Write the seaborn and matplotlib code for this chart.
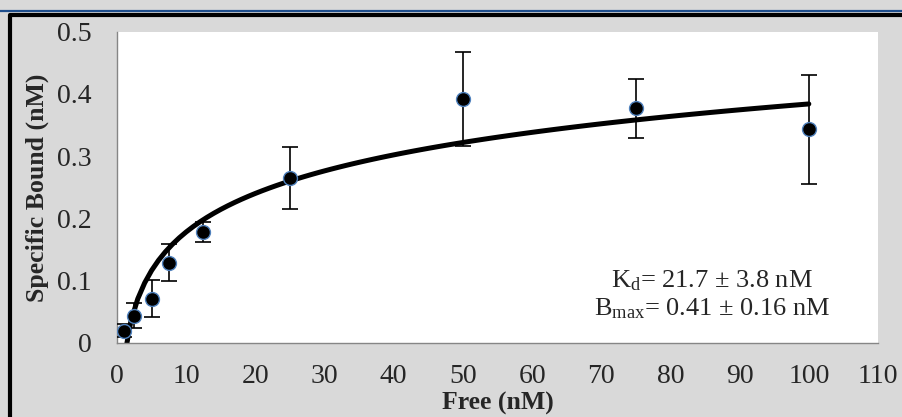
import numpy as np
import pandas as pd
import matplotlib
matplotlib.use("Agg")
import matplotlib.pyplot as plt
import seaborn as sns
from matplotlib.lines import Line2D

# binding data
free_nM = [1, 2.5, 5, 7.5, 12.5, 25, 50, 75, 100]
bound_nM = [0.020, 0.044, 0.071, 0.129, 0.178, 0.265, 0.392, 0.377, 0.343]
bound_err = [0.010, 0.020, 0.030, 0.030, 0.016, 0.050, 0.076, 0.047, 0.087]

x_ticks = list(range(0, 111, 10))
y_ticks = [0, 0.1, 0.2, 0.3, 0.4, 0.5]
y_tick_labels = ["0", "0.1", "0.2", "0.3", "0.4", "0.5"]

kd_text = "K$_{\\mathrm{d}}$= 21.7 ± 3.8 nM"
bmax_text = "B$_{\\mathrm{max}}$= 0.41 ± 0.16 nM"

df = pd.DataFrame({"free": free_nM, "bound": bound_nM, "err": bound_err})

sns.set_style("white")
plt.rcParams["font.family"] = ["Liberation Serif", "DejaVu Serif"]
plt.rcParams["mathtext.fontset"] = "custom"
plt.rcParams["mathtext.rm"] = "Liberation Serif"
plt.rcParams["mathtext.it"] = "Liberation Serif:italic"
plt.rcParams["mathtext.bf"] = "Liberation Serif:bold"

fig = plt.figure(figsize=(9.02, 4.17), dpi=100, facecolor="#d9d9d9")
ax = fig.add_axes([0.1297, 0.1775, 0.8437, 0.7465])
ax.set_facecolor("white")

# logarithmic trendline fitted on the points
sns.regplot(data=df, x="free", y="bound", logx=True, ci=None, scatter=False,
            truncate=True, color="black", line_kws={"lw": 3.6}, ax=ax)

ax.errorbar(df["free"], df["bound"], yerr=df["err"], fmt="none",
            ecolor="black", elinewidth=1.2, capsize=6, capthick=1.2, zorder=3)

sns.scatterplot(data=df, x="free", y="bound", s=100, color="black",
                edgecolor="#4f81bd", linewidth=1.0, zorder=4, ax=ax)

ax.set_xlim(0, 110)
ax.set_ylim(0, 0.5)
ax.set_xticks(x_ticks)
ax.set_yticks(y_ticks)
ax.set_yticklabels(y_tick_labels)
ax.tick_params(axis="both", direction="out", length=5, width=1, color="#868686",
               labelsize=20)
ax.tick_params(axis="x", pad=10)
ax.tick_params(axis="y", pad=13)
for side in ["top", "right"]:
    ax.spines[side].set_visible(False)
for side in ["left", "bottom"]:
    ax.spines[side].set_color("#868686")
    ax.spines[side].set_linewidth(1)

ax.set_xlabel("Free (nM)", fontsize=18.5, fontweight="bold", labelpad=2)
ax.set_ylabel("Specific Bound (nM)", fontsize=18.5, fontweight="bold", labelpad=6)

ax.text(86, 0.100, kd_text, fontsize=19, ha="center", va="center")
ax.text(86, 0.055, bmax_text, fontsize=19, ha="center", va="center")

# frame and header rule around the chart
fig.add_artist(Line2D([0, 1], [1 - 11 / 417, 1 - 11 / 417], color="#1f4e8c", lw=1.6))
fig.add_artist(Line2D([10 / 902, 10 / 902, 1], [0, 1 - 15 / 417, 1 - 15 / 417],
                      color="black", lw=3))

fig.savefig("out.png", dpi=100, facecolor=fig.get_facecolor())
